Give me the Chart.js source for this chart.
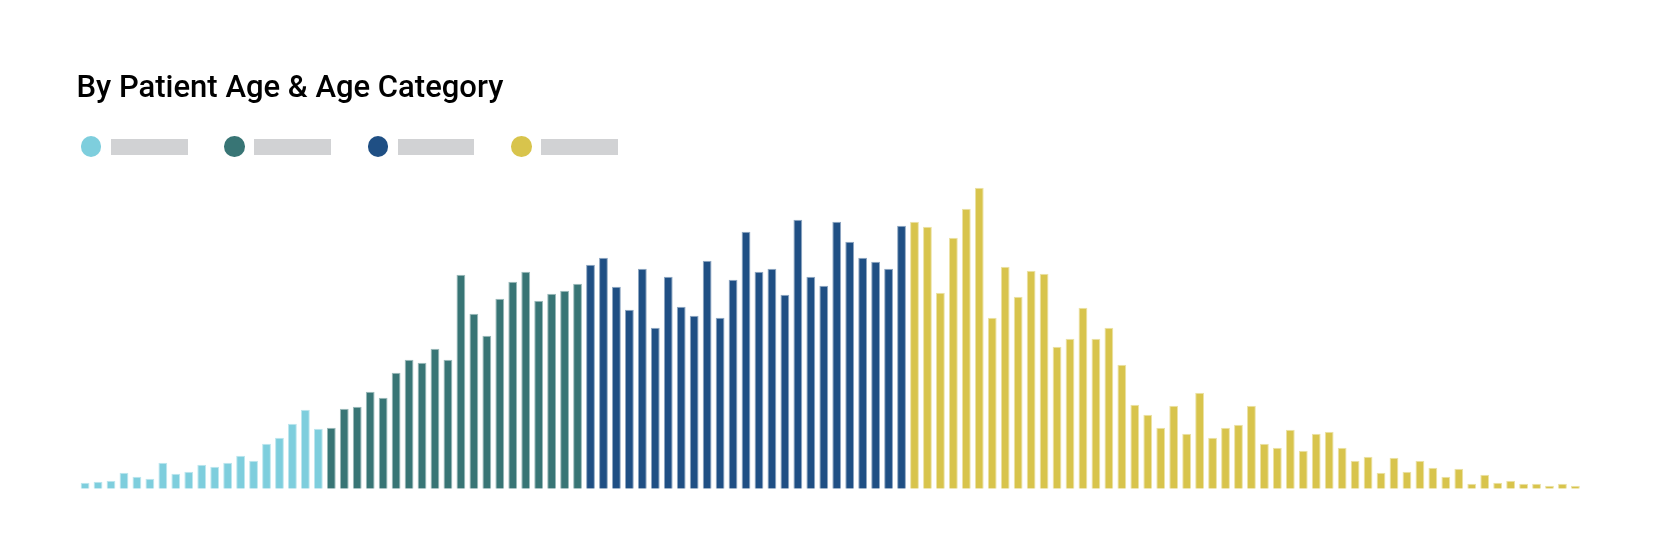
<!DOCTYPE html>
<html>
<head>
<meta charset="utf-8">
<script src="https://cdn.jsdelivr.net/npm/chart.js@4.4.1/dist/chart.umd.min.js"></script>
<style>
body{margin:0;background:#fff;}
#wrap{position:relative;width:1660px;height:559px;}
#title{position:absolute;left:76.5px;top:70.6px;margin:0;font-family:Roboto,sans-serif;font-weight:500;font-size:31px;line-height:31px;color:#000;}
.item{position:absolute;top:136.3px;height:21px;}
.dot{position:absolute;left:0;top:0;width:20.7px;height:20.7px;border-radius:50%;}
.ph{position:absolute;left:30.3px;top:2.7px;width:76.7px;height:16.3px;background:#d1d2d4;}
#chart{position:absolute;left:0;top:0;}
</style>
</head>
<body>
<div id="wrap">
  <canvas id="chart" width="1660" height="559"></canvas>
  <h2 id="title">By Patient Age &amp; Age Category</h2>
  <div id="legend"></div>
</div>
<script>
// bar heights per age, one array per age category
const childValues = [6, 7, 8, 16, 12, 10, 26, 15, 17, 24, 22, 26, 33, 28, 45, 51, 65, 79, 60];
const youngValues = [61, 80, 82, 97, 91, 116, 129, 126, 140, 129, 214, 175, 153, 190, 207, 217, 188, 195, 198, 205];
const adultValues = [224, 231, 202, 179, 220, 161, 212, 182, 173, 228, 171, 209, 257, 217, 220, 194, 269, 212, 203, 267, 247, 231, 227, 220, 263];
const seniorValues = [267, 262, 196, 251, 280, 301, 171, 222, 192, 218, 215, 142, 150, 181, 150, 161, 124, 84, 74, 61,
                      83, 55, 96, 51, 61, 64, 83, 45, 41, 59, 38, 55, 57, 41, 28, 32, 16, 31, 17, 28,
                      21, 12, 20, 5, 14, 6, 8, 5, 5, 3, 5, 3];

const groups = [childValues, youngValues, adultValues, seniorValues];
const colors = ['#7ecedd', '#387575', '#1f4f84', '#d8c44c'];
const edges = ['#bde6ee', '#9bbaba', '#8fa7c2', '#ece2a6'];

const total = groups.reduce((n, g) => n + g.length, 0);
const ages = [];
for (let i = 0; i < total; i++) ages.push(String(i));

// each category gets its own dataset, null outside its age range
let start = 0;
const datasets = groups.map((vals, gi) => {
    const data = new Array(total).fill(null);
    vals.forEach((v, i) => { data[start + i] = v; });
    start += vals.length;
    return {
        data: data,
        backgroundColor: colors[gi],
        borderColor: edges[gi],
        borderWidth: 1,
        borderSkipped: 'start',
        barPercentage: 0.68,
        categoryPercentage: 1
    };
});

// html legend: dot + grey placeholder
const legend = document.getElementById('legend');
colors.forEach((c, i) => {
    const item = document.createElement('div');
    item.className = 'item';
    item.style.left = (80.7 + i * 143.4) + 'px';
    item.innerHTML = '<div class="dot" style="background:' + c + '"></div><div class="ph"></div>';
    legend.appendChild(item);
});

new Chart(document.getElementById('chart'), {
    type: 'bar',
    data: { labels: ages, datasets: datasets },
    options: {
        responsive: false,
        animation: false,
        devicePixelRatio: 1,
        layout: { padding: { left: 78.6, right: 78.1, top: 178.7, bottom: 70.3 } },
        scales: {
            x: { stacked: true, display: false },
            y: { stacked: true, display: false, min: 0, max: 310 }
        },
        plugins: {
            legend: { display: false },
            tooltip: { enabled: false }
        }
    }
});
</script>
</body>
</html>
